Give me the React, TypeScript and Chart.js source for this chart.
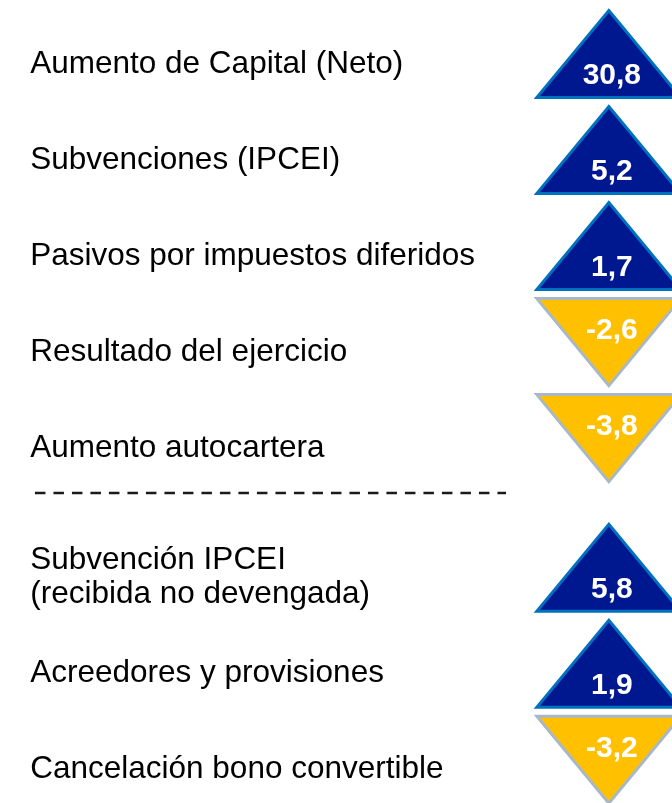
import React, { useEffect, useRef } from "react";
import { Chart, registerables } from "chart.js";

Chart.register(...registerables);

// ---- data ----
const categories: string[][] = [
  ["Aumento de Capital (Neto)"],
  ["Subvenciones (IPCEI)"],
  ["Pasivos por impuestos diferidos"],
  ["Resultado del ejercicio"],
  ["Aumento autocartera"],
  ["Subvención IPCEI", "(recibida no devengada)"],
  ["Acreedores y provisiones"],
  ["Cancelación bono convertible"],
];
const values: number[] = [30.8, 5.2, 1.7, -2.6, -3.8, 5.8, 1.9, -3.2];
const groups: number[] = [0, 0, 0, 0, 0, 1, 1, 1];

// ---- layout constants ----
const GROUP_GAP = 0.35; // extra slot space between groups
const MARK_X = 0.906;
const LABEL_X = 0.045;
const DIVIDER_X0 = 0.052;
const DIVIDER_X1 = 0.753;

const slotOf = (i: number) => i + groups[i] * GROUP_GAP;
const fmt = (v: number) => v.toFixed(1).replace(".", ",");

const triPlugin = {
  id: "triangles",
  afterDatasetsDraw(chart: any) {
    const ctx = chart.ctx as CanvasRenderingContext2D;
    const xs = chart.scales.x;
    const ys = chart.scales.y;
    const meta = chart.getDatasetMeta(0);
    const halfW = 72;
    const halfH = 43.5;
    ctx.save();
    meta.data.forEach((el: any, i: number) => {
      const v = values[i];
      const cx = el.x;
      const cy = el.y;
      const up = v >= 0;
      ctx.beginPath();
      if (up) {
        ctx.moveTo(cx, cy - halfH);
        ctx.lineTo(cx + halfW, cy + halfH);
        ctx.lineTo(cx - halfW, cy + halfH);
      } else {
        ctx.moveTo(cx - halfW, cy - halfH);
        ctx.lineTo(cx + halfW, cy - halfH);
        ctx.lineTo(cx, cy + halfH);
      }
      ctx.closePath();
      ctx.fillStyle = up ? "#00188f" : "#ffc000";
      ctx.fill();
      ctx.lineWidth = 3;
      ctx.lineJoin = "miter";
      ctx.strokeStyle = up ? "#0070c0" : "#a9b8c6";
      ctx.stroke();

      ctx.fillStyle = "#ffffff";
      ctx.font = "bold 30px 'Liberation Sans', Arial, sans-serif";
      ctx.textAlign = "center";
      ctx.textBaseline = "middle";
      ctx.fillText(fmt(v), cx + 3, up ? cy + 22 : cy - 11);

      // category label
      const lines = categories[i];
      const lx = xs.getPixelForValue(LABEL_X);
      const ly = cy + 10;
      const lh = 34;
      ctx.fillStyle = "#000000";
      ctx.font = "31.5px 'Liberation Sans', Arial, sans-serif";
      ctx.textAlign = "left";
      ctx.textBaseline = "middle";
      lines.forEach((t, k) => {
        ctx.fillText(t, lx, ly + (k - (lines.length - 1) / 2) * lh);
      });
    });

    // divider between groups
    const firstB = groups.indexOf(1);
    const dy = ys.getPixelForValue((slotOf(firstB - 1) + slotOf(firstB)) / 2) - 10;
    ctx.beginPath();
    ctx.setLineDash([10.5, 8]);
    ctx.lineWidth = 2.5;
    ctx.strokeStyle = "#1a1a1a";
    ctx.moveTo(xs.getPixelForValue(DIVIDER_X0), dy);
    ctx.lineTo(xs.getPixelForValue(DIVIDER_X1), dy);
    ctx.stroke();
    ctx.restore();
  },
};

export default function App() {
  const ref = useRef<HTMLCanvasElement | null>(null);
  useEffect(() => {
    document.body.style.margin = "0";
    const chart = new Chart(ref.current!, {
      type: "scatter",
      data: {
        datasets: [
          {
            data: values.map((v, i) => ({ x: MARK_X, y: slotOf(i) })),
            pointRadius: 0,
            pointHoverRadius: 0,
          },
        ],
      },
      options: {
        responsive: false,
        animation: false,
        devicePixelRatio: 1,
        layout: { padding: 0 },
        plugins: {
          legend: { display: false },
          tooltip: { enabled: false },
        },
        scales: {
          x: { type: "linear", min: 0, max: 1, display: false },
          y: { type: "linear", reverse: true, min: -0.5625, max: 7.8, display: false },
        },
      },
      plugins: [triPlugin],
    });
    return () => chart.destroy();
  }, []);
  return (
    <div style={{ width: 672, height: 803, background: "#ffffff" }}>
      <canvas ref={ref} width={672} height={803} style={{ display: "block" }} />
    </div>
  );
}
